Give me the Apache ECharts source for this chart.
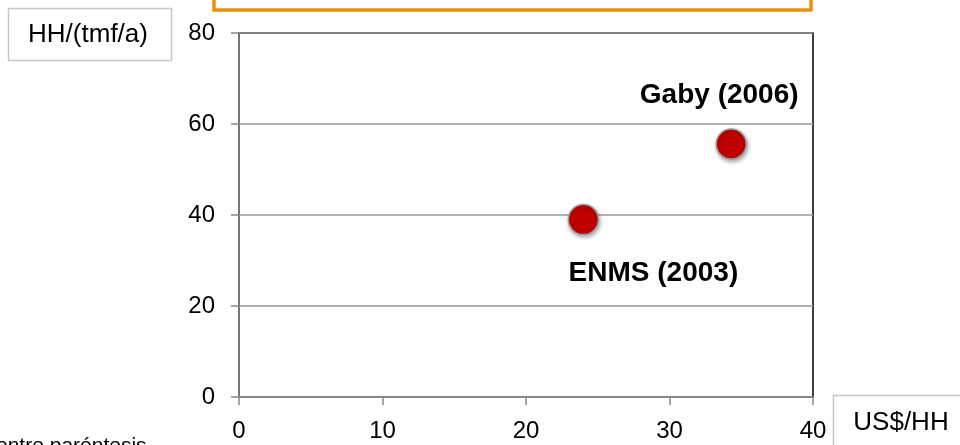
<!DOCTYPE html>
<html><head><meta charset="utf-8">
<script src="https://cdn.jsdelivr.net/npm/echarts@6/dist/echarts.min.js"></script>
<style>html,body{margin:0;padding:0;background:#fff}#c{width:960px;height:445px}</style>
</head><body><div id="c"></div>
<script>
const names = ['ENMS (2003)', 'Gaby (2006)'];
const xValues = [24, 34.3];
const yValues = [39, 55.6];
const xTicks = [0, 10, 20, 30, 40];
const yTicks = [0, 20, 40, 60, 80];
const labelPos = [[70, 54], [-12, -49]];

const chart = echarts.init(document.getElementById('c'), null, {renderer: 'canvas'});
const F = '"Liberation Sans", Arial, sans-serif';
chart.setOption({
  animation: false,
  grid: {left: 239, right: 147, top: 33, bottom: 48, show: true, borderColor: '#000', borderWidth: 1.5, backgroundColor: 'transparent'},
  xAxis: {
    type: 'value', min: xTicks[0], max: xTicks[xTicks.length-1], interval: 10,
    axisLine: {show: true, lineStyle: {color: '#888', width: 1.5}},
    axisTick: {show: true, inside: false, length: 8, lineStyle: {color: '#888', width: 1.5}},
    splitLine: {show: false},
    axisLabel: {color: '#000', fontSize: 24, fontFamily: F, margin: 22}
  },
  yAxis: {
    type: 'value', min: yTicks[0], max: yTicks[yTicks.length-1], interval: 20,
    axisLine: {show: true, lineStyle: {color: '#888', width: 1.5}},
    axisTick: {show: true, inside: false, length: 8, lineStyle: {color: '#888', width: 1.5}},
    splitLine: {show: true, lineStyle: {color: '#999', width: 1.5}},
    axisLabel: {color: '#000', fontSize: 24, fontFamily: F, margin: 24}
  },
  series: [{
    type: 'scatter',
    symbolSize: 30,
    itemStyle: {color: '#C00000', opacity: 1, borderColor: '#9a9a9a', borderWidth: 1.5, shadowColor: 'rgba(0,0,0,0.35)', shadowBlur: 4, shadowOffsetX: 1, shadowOffsetY: 2},
    label: {show: true, formatter: p => p.name, fontSize: 28, fontWeight: 'bold', color: '#000', opacity: 1, textBorderWidth: 0, fontFamily: F, position: 'inside'},
    emphasis: {disabled: true},
    data: names.map((n, i) => ({name: n, value: [xValues[i], yValues[i]], label: {offset: labelPos[i], color: '#000'}}))
  }],
  graphic: [
    {type: 'rect', shape: {x: 214, y: -20, width: 597, height: 30}, style: {fill: 'none', stroke: '#E8900A', lineWidth: 3.5}},
    {type: 'rect', shape: {x: 8.5, y: 8.5, width: 163, height: 52}, style: {fill: '#fff', stroke: '#c8c8c8', lineWidth: 1.5}},
    {type: 'text', x: 88, y: 35, style: {text: 'HH/(tmf/a)', fill: '#000', font: '26px ' + F, textAlign: 'center', textVerticalAlign: 'middle'}},
    {type: 'rect', shape: {x: 833.5, y: 395.5, width: 140, height: 60}, style: {fill: '#fff', stroke: '#c8c8c8', lineWidth: 1.5}},
    {type: 'text', x: 901, y: 423, style: {text: 'US$/HH', fill: '#000', font: '26px ' + F, textAlign: 'center', textVerticalAlign: 'middle'}},
    {type: 'text', x: -4, y: 436, style: {text: 'entre paréntesis', fill: '#000', font: '21px ' + F, textAlign: 'left', textVerticalAlign: 'top'}}
  ]
});
</script></body></html>
